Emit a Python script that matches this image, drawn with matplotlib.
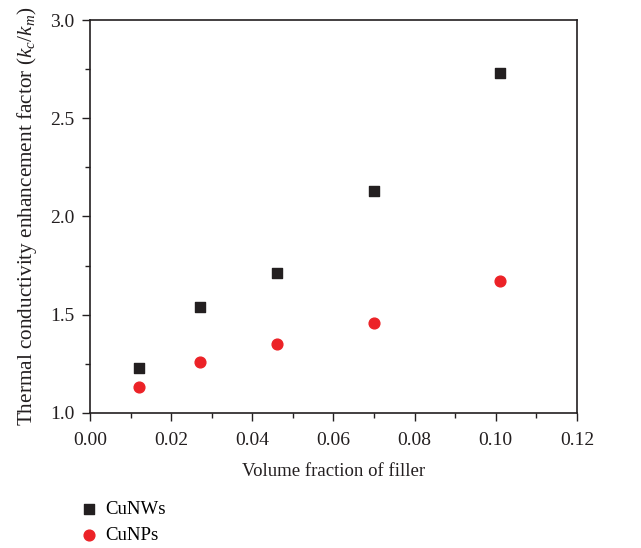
import matplotlib
matplotlib.use("Agg")
import matplotlib.pyplot as plt
from matplotlib.ticker import MultipleLocator

# data
vol_frac = [0.012, 0.027, 0.046, 0.070, 0.101]
cunws = [1.23, 1.54, 1.71, 2.13, 2.73]
cunps = [1.13, 1.26, 1.35, 1.46, 1.67]

plt.rcParams['font.family'] = ['Liberation Serif', 'DejaVu Serif']
plt.rcParams['mathtext.fontset'] = 'custom'
plt.rcParams['mathtext.it'] = 'Liberation Serif:italic'
plt.rcParams['mathtext.rm'] = 'Liberation Serif'

fig = plt.figure(figsize=(6.41, 5.48), dpi=100)
ax = fig.add_axes([0.1404, 0.2464, 0.7596, 0.7171])

ax.scatter(vol_frac, cunws, marker='s', s=44, color='#231f20', label='CuNWs', zorder=3)
ax.scatter(vol_frac, cunps, marker='o', s=60, color='#ec2227', label='CuNPs', zorder=3)

ax.set_xlim(0, 0.12)
ax.set_ylim(1.0, 3.0)
ax.xaxis.set_major_locator(MultipleLocator(0.02))
ax.xaxis.set_minor_locator(MultipleLocator(0.01))
ax.yaxis.set_major_locator(MultipleLocator(0.5))
ax.yaxis.set_minor_locator(MultipleLocator(0.25))
ax.xaxis.set_major_formatter(plt.FormatStrFormatter('%.2f'))
ax.yaxis.set_major_formatter(plt.FormatStrFormatter('%.1f'))

ax.tick_params(which='major', direction='out', length=6, width=1, labelsize=14,
               color='#231f20', labelcolor='#231f20', pad=5)
ax.tick_params(axis='x', which='major', pad=8)
ax.tick_params(which='minor', direction='out', length=3.5, width=1, color='#231f20')
for s in ax.spines.values():
    s.set_linewidth(1.2)
    s.set_color('#231f20')

ax.set_xlabel('Volume fraction of filler', fontsize=13.5, labelpad=10, color='#231f20')
ax.set_ylabel(r'Thermal conductivity enhancement factor ($k_c/k_m$)', fontsize=15.3,
              labelpad=8, color='#231f20')

ax.legend(loc='upper left', bbox_to_anchor=(-0.04, -0.205), frameon=False, fontsize=13.5,
          handletextpad=0.25, labelspacing=0.45, borderaxespad=0, handlelength=1.2)

fig.savefig('out.png', dpi=100)
